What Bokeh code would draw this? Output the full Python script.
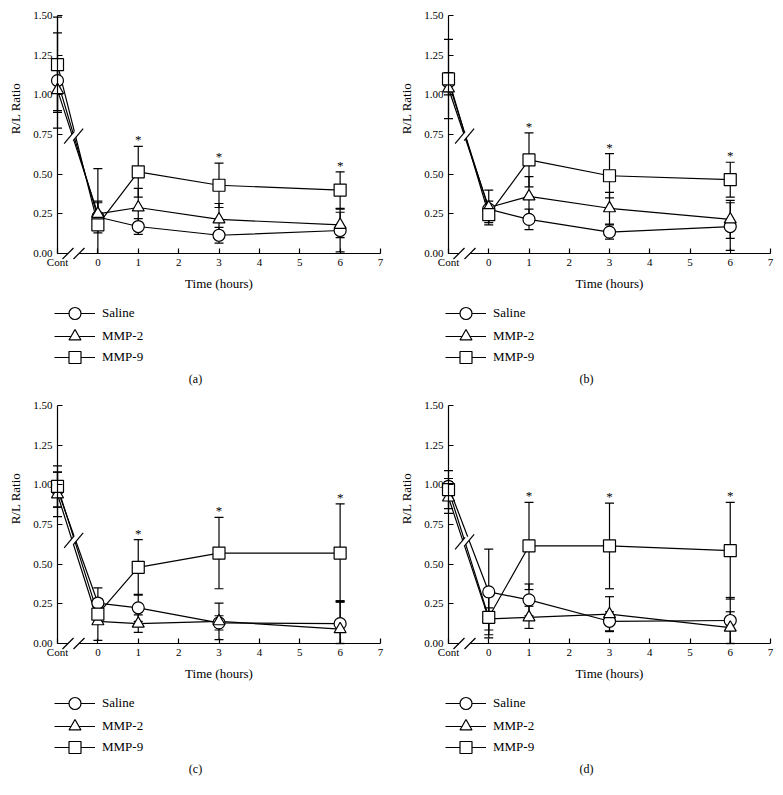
import numpy as np
from bokeh.plotting import figure
from bokeh.layouts import column, row
from bokeh.models import (ColumnDataSource, Whisker, TeeHead, FixedTicker, Legend,
                          LegendItem, Label, NumeralTickFormatter)
from bokeh.core.properties import value
from bokeh.embed import file_html
from bokeh.resources import INLINE

# ---------------- data ----------------
time_x = [-1, 0, 1, 3, 6]
x_ticks = [-1, 0, 1, 2, 3, 4, 5, 6, 7]
x_tick_labels = ["Cont", "0", "1", "2", "3", "4", "5", "6", "7"]
y_ticks = [0.0, 0.25, 0.5, 0.75, 1.0, 1.25, 1.5]
series_names = ["Saline", "MMP-2", "MMP-9"]
star_times = [1, 3, 6]

a_saline = [1.09, 0.23, 0.17, 0.115, 0.145]
a_saline_err = [0.30, 0.10, 0.05, 0.05, 0.135]
a_mmp2 = [1.03, 0.25, 0.29, 0.215, 0.18]
a_mmp2_err = [0.13, 0.07, 0.12, 0.10, 0.08]
a_mmp9 = [1.19, 0.18, 0.515, 0.43, 0.40]
a_mmp9_err = [0.30, 0.355, 0.16, 0.14, 0.115]

b_saline = [1.08, 0.28, 0.215, 0.135, 0.17]
b_saline_err = [0.06, 0.05, 0.065, 0.045, 0.15]
b_mmp2 = [1.04, 0.29, 0.36, 0.285, 0.215]
b_mmp2_err = [0.04, 0.11, 0.125, 0.10, 0.12]
b_mmp9 = [1.10, 0.245, 0.59, 0.49, 0.465]
b_mmp9_err = [0.25, 0.05, 0.17, 0.14, 0.11]

c_saline = [0.97, 0.255, 0.225, 0.13, 0.125]
c_saline_err = [0.11, 0.095, 0.085, 0.045, 0.14]
c_mmp2 = [0.94, 0.14, 0.125, 0.14, 0.09]
c_mmp2_err = [0.14, 0.12, 0.055, 0.115, 0.18]
c_mmp9 = [0.99, 0.185, 0.48, 0.57, 0.57]
c_mmp9_err = [0.13, 0.06, 0.175, 0.225, 0.31]

d_saline = [0.99, 0.325, 0.275, 0.14, 0.145]
d_saline_err = [0.05, 0.27, 0.10, 0.06, 0.145]
d_mmp2 = [0.92, 0.155, 0.165, 0.185, 0.10]
d_mmp2_err = [0.10, 0.07, 0.07, 0.11, 0.10]
d_mmp9 = [0.97, 0.165, 0.615, 0.615, 0.585]
d_mmp9_err = [0.12, 0.13, 0.275, 0.27, 0.305]

# ---------------- style ----------------
FONT = "Liberation Serif"
LW = 1.2


def make_panel(tag, data, W, H, px_left, px_right, px_top, px_zero, brk_y):
    # pixel geometry of the panel: x=-1 at px_left, x=7 at px_right,
    # y=1.5 at px_top, y=0 at px_zero (all in figure pixels)
    kx = (px_right - px_left) / 8.0
    ky = (px_zero - px_top) / 1.5
    x0 = -1 - px_left / kx
    x1 = x0 + W / kx
    y1 = 1.5 + px_top / ky
    y0 = y1 - H / ky

    def dx(px):
        return x0 + px / kx

    def dy(py):
        return y1 - py / ky

    p = figure(width=W, height=H, x_range=(x0, x1), y_range=(y0, y1),
               output_backend="svg", toolbar_location=None,
               min_border_left=0, min_border_right=0, min_border_top=0,
               min_border_bottom=0)
    p.outline_line_color = None
    p.xgrid.grid_line_color = None
    p.ygrid.grid_line_color = None

    xa = p.xaxis[0]
    ya = p.yaxis[0]
    xa.fixed_location = 0
    xa.bounds = (-1, 7)
    xa.ticker = FixedTicker(ticks=x_ticks)
    xa.major_label_overrides = {t: l for t, l in zip(x_ticks, x_tick_labels)}
    xa.axis_label = "Time (hours)"
    xa.major_label_standoff = 2
    xa.axis_label_standoff = 5
    ya.fixed_location = -1
    ya.bounds = (0, 1.5)
    ya.ticker = FixedTicker(ticks=y_ticks)
    ya.formatter = NumeralTickFormatter(format="0.00")
    ya.major_label_standoff = 5
    for ax in (xa, ya):
        ax.axis_line_width = LW
        ax.axis_line_color = "black"
        ax.major_tick_line_color = "black"
        ax.major_tick_line_width = LW
        ax.major_tick_in = 5
        ax.major_tick_out = 0
        ax.minor_tick_line_color = None
        ax.major_label_text_font = FONT
        ax.major_label_text_font_size = "11px"
        ax.major_label_text_color = "black"
        ax.axis_label_text_font = FONT
        ax.axis_label_text_font_size = "13px"
        ax.axis_label_text_font_style = "normal"
        ax.axis_label_text_color = "black"

    markers = ["circle", "triangle", "square"]
    srcs = []
    line_rs = []
    for (vals, errs) in data:
        v = np.array(vals, dtype=float)
        e = np.array(errs, dtype=float)
        src = ColumnDataSource(dict(x=time_x, y=v, upper=v + e,
                                    lower=np.maximum(v - e, 0.0)))
        srcs.append(src)
        p.add_layout(Whisker(source=src, base="x", upper="upper", lower="lower",
                             dimension="height", line_color="black", line_width=LW,
                             upper_head=TeeHead(size=9, line_color="black", line_width=LW),
                             lower_head=TeeHead(size=9, line_color="black", line_width=LW)))
        line_rs.append(p.line("x", "y", source=src, line_color="black", line_width=LW))

    # break on the Cont -> 0 segment
    bx, by = -0.6, brk_y
    s1 = (bx - 4.5 / kx, by - 1.5 / ky)
    s2 = (bx + 4.5 / kx, by + 1.5 / ky)
    hx, hy = 5 / kx, 6 / ky
    p.patch([s1[0] - hx, s1[0] + hx, s2[0] + hx, s2[0] - hx],
            [s1[1] - hy, s1[1] + hy, s2[1] + hy, s2[1] - hy],
            fill_color="white", line_color=None)
    p.segment(x0=[s1[0] - hx, s2[0] - hx], y0=[s1[1] - hy, s2[1] - hy],
              x1=[s1[0] + hx, s2[0] + hx], y1=[s1[1] + hy, s2[1] + hy],
              line_color="black", line_width=LW)

    marker_rs = []
    for src, mk in zip(srcs, markers):
        marker_rs.append(p.scatter("x", "y", source=src, marker=mk, size=12,
                                   fill_color="white", line_color="black", line_width=LW))

    # axis break on the x axis
    c1 = -1 + 10.5 / kx
    c2 = -1 + 21.5 / kx
    p.quad(left=[c1], right=[c2], bottom=[-2.2 / ky], top=[2.2 / ky],
           fill_color="white", line_color=None, level="overlay")
    p.segment(x0=[c1 - 5.5 / kx, c2 - 5.5 / kx], y0=[-5.5 / ky, -5.5 / ky],
              x1=[c1 + 5.5 / kx, c2 + 5.5 / kx], y1=[5.5 / ky, 5.5 / ky],
              line_color="black", line_width=LW, level="overlay")

    # significance asterisks above MMP-9 error bars
    m9_top = np.array(data[2][0]) + np.array(data[2][1])
    sy = [m9_top[time_x.index(t)] for t in star_times]
    p.text(x=star_times, y=sy, text=["*"] * len(star_times), text_font=value(FONT),
           text_font_size="13px", text_align="center", text_baseline="bottom",
           text_color="black", y_offset=1)

    # legend below the axis: one single-item legend per series
    gh = 30
    centers = [px_zero + 60, px_zero + 83, px_zero + 104]
    for n, lr, mr, cy in zip(series_names, line_rs, marker_rs, centers):
        legend = Legend(items=[LegendItem(label=n, renderers=[lr, mr])],
                        location=(px_left - 3, H - (cy + gh / 2)),
                        orientation="vertical", glyph_width=41, glyph_height=gh,
                        label_height=gh, spacing=0, label_standoff=7, padding=0,
                        margin=0, border_line_color=None, background_fill_alpha=0,
                        label_text_font=FONT, label_text_font_size="13px",
                        label_text_color="black")
        p.add_layout(legend)

    p.add_layout(Label(x=dx(px_left - 42), y=dy(px_top + 93), text="R/L Ratio",
                       angle=np.pi / 2, text_align="center", text_baseline="middle",
                       text_font=FONT, text_font_size="13px", text_color="black"))
    p.add_layout(Label(x=dx(px_left + 138), y=dy(px_zero + 125), text=tag,
                       text_align="center", text_baseline="middle", text_font=FONT,
                       text_font_size="12px", text_color="black"))
    return p


pa = make_panel("(a)", [(a_saline, a_saline_err), (a_mmp2, a_mmp2_err), (a_mmp9, a_mmp9_err)],
                390, 390, 57, 380, 15, 253, 0.74)
pb = make_panel("(b)", [(b_saline, b_saline_err), (b_mmp2, b_mmp2_err), (b_mmp9, b_mmp9_err)],
                393, 390, 58, 380, 15, 253, 0.74)
pc = make_panel("(c)", [(c_saline, c_saline_err), (c_mmp2, c_mmp2_err), (c_mmp9, c_mmp9_err)],
                390, 404, 57, 380, 15, 253, 0.65)
pd = make_panel("(d)", [(d_saline, d_saline_err), (d_mmp2, d_mmp2_err), (d_mmp9, d_mmp9_err)],
                393, 404, 58, 380, 15, 253, 0.64)

layout = column(row(pa, pb), row(pc, pd))
open("out.html", "w").write(file_html(layout, INLINE))
